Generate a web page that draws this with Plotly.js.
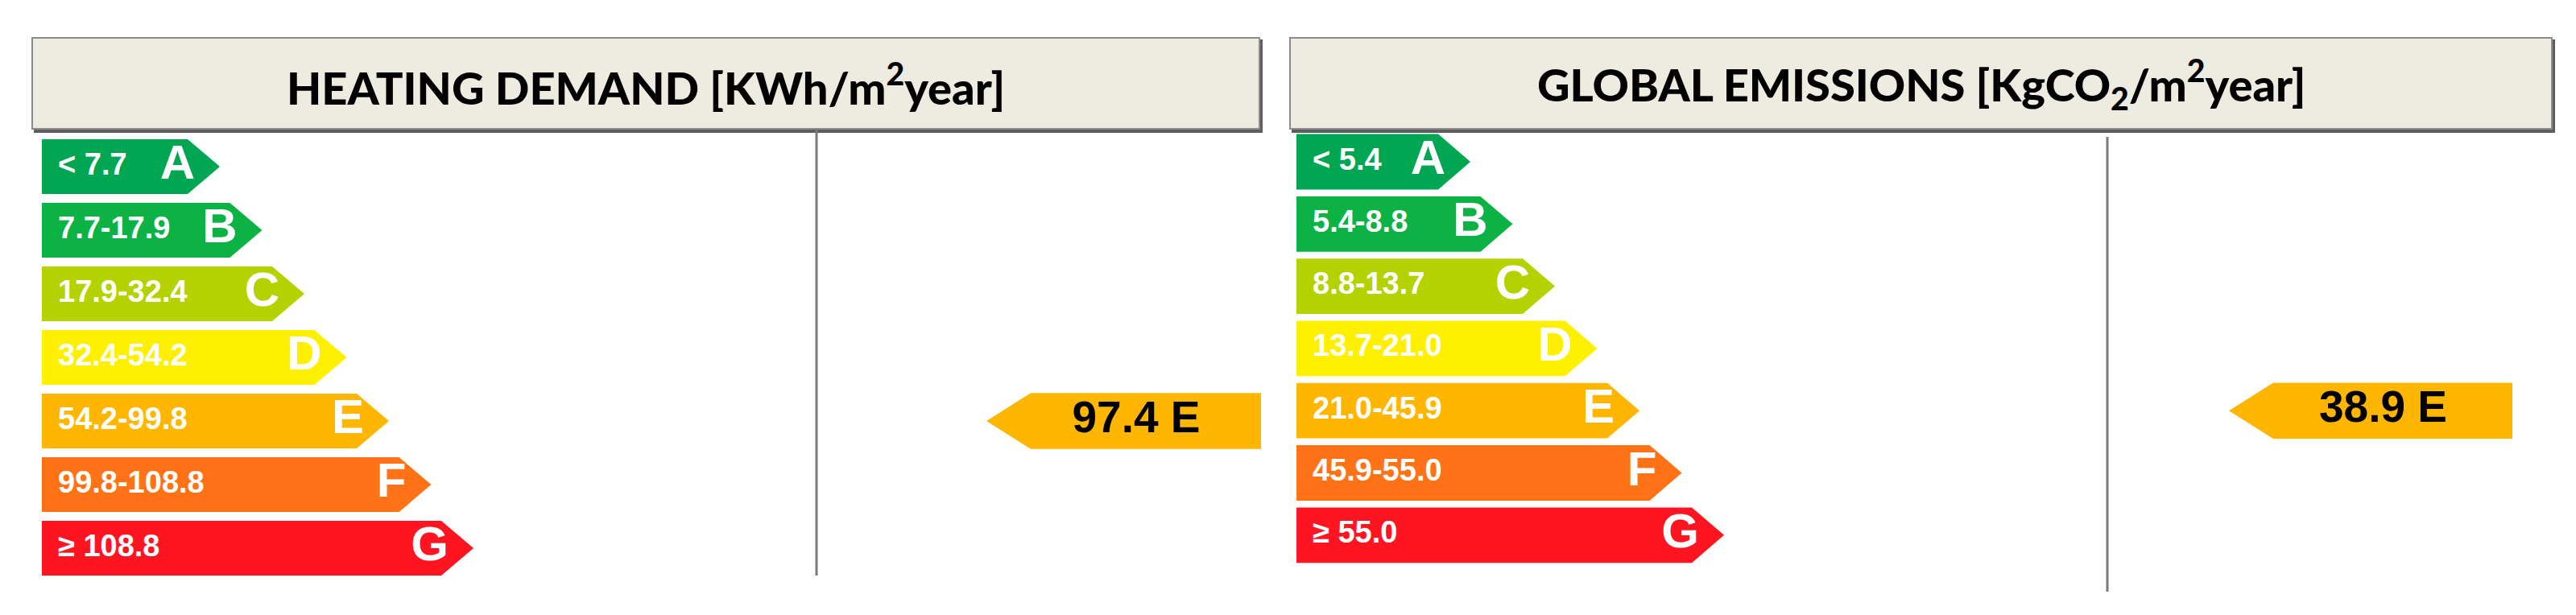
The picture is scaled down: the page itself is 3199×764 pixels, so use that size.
<!DOCTYPE html>
<html>
<head>
<meta charset="utf-8">
<script src="https://cdn.plot.ly/plotly-3.0.1.min.js"></script>
<style>body{margin:0;background:#fff}</style>
</head>
<body>
<div id="graph_container" style="width:3199px;height:764px"></div>
<script>
var classes = ['A', 'B', 'C', 'D', 'E', 'F', 'G'];
var class_colors = ['#00A651', '#0CB243', '#B4D200', '#FFF000', '#FFB600', '#FF7316', '#FF1521'];

var heating_ranges = ['< 7.7', '7.7-17.9', '17.9-32.4', '32.4-54.2', '54.2-99.8', '99.8-108.8', '\u2265 108.8'];
var heating_value = 97.4;
var heating_class = 'E';

var emission_ranges = ['< 5.4', '5.4-8.8', '8.8-13.7', '13.7-21.0', '21.0-45.9', '45.9-55.0', '\u2265 55.0'];
var emission_value = 38.9;
var emission_class = 'E';

var W = 3199, H = 764;
var rangeFont = '"Liberation Sans Narrow", "Arial Narrow", "Liberation Sans", Arial, sans-serif';
var boldFont = '"Liberation Sans", Arial, sans-serif';

// layout of the two panels, in page pixels
var panels = [
    {title: 'HEATING DEMAND [KWh/m<sup>2</sup>year]', ranges: heating_ranges,
     value: heating_value, cls: heating_class, yaxis: 'y',
     box: [40, 1564, 47, 160], divider: [1014, 160, 715],
     barX: 52, tip0: 273, halfH: 0.43, ind: [1225, 1280, 1566], indH: 0.44},
    {title: 'GLOBAL EMISSIONS [KgCO<sub>2</sub>/m<sup>2</sup>year]', ranges: emission_ranges,
     value: emission_value, cls: emission_class, yaxis: 'y2',
     box: [1602, 3169, 47, 160], divider: [2617, 170, 735],
     barX: 1610, tip0: 1826, halfH: 0.445, ind: [2768, 2823, 3120], indH: 0.45}
];
var tipStep = 52.5, tipDepth = 40;

function py(p) { return 1 - p / H; }

var traces = [];
var shapes = [];
var annotations = [];

panels.forEach(function (pn) {
    var letterX = [], rangeX = [], ys = [];
    classes.forEach(function (c, i) {
        var tip = pn.tip0 + tipStep * i;
        var body = tip - tipDepth;
        var h = pn.halfH;
        traces.push({
            x: [pn.barX, body, tip, body, pn.barX, pn.barX],
            y: [i - h, i - h, i, i + h, i + h, i - h],
            yaxis: pn.yaxis, type: 'scatter', mode: 'lines', fill: 'toself',
            fillcolor: class_colors[i], line: {width: 0, color: class_colors[i]},
            hoverinfo: 'skip'
        });
        letterX.push(tip - 31);
        rangeX.push(pn.barX + 20);
        ys.push(i);
    });
    traces.push({
        x: rangeX, y: ys, text: pn.ranges, yaxis: pn.yaxis,
        type: 'scatter', mode: 'text', textposition: 'middle right',
        textfont: {family: rangeFont, size: 38, color: '#ffffff', weight: 'bold'},
        hoverinfo: 'skip'
    });
    traces.push({
        x: letterX, y: ys, text: classes, yaxis: pn.yaxis,
        type: 'scatter', mode: 'text', textposition: 'middle left',
        textfont: {family: boldFont, size: 60, color: '#ffffff', weight: 'bold'},
        hoverinfo: 'skip'
    });

    // indicator arrow at the rated class
    var k = classes.indexOf(pn.cls);
    var tipX = pn.ind[0], bodyX = pn.ind[1], endX = pn.ind[2], ih = pn.indH;
    traces.push({
        x: [endX, bodyX, tipX, bodyX, endX, endX],
        y: [k - ih, k - ih, k, k + ih, k + ih, k - ih],
        yaxis: pn.yaxis, type: 'scatter', mode: 'lines', fill: 'toself',
        fillcolor: class_colors[k], line: {width: 0, color: class_colors[k]},
        hoverinfo: 'skip'
    });
    traces.push({
        x: [(bodyX + endX) / 2 - 12], y: [k], text: [pn.value.toFixed(1) + ' ' + pn.cls],
        yaxis: pn.yaxis, type: 'scatter', mode: 'text', textposition: 'middle center',
        textfont: {family: boldFont, size: 55, color: '#000000', weight: 'bold'},
        hoverinfo: 'skip'
    });

    // header box with shadow
    var b = pn.box;
    shapes.push({type: 'rect', xref: 'x', yref: 'paper', x0: b[0] + 2, x1: b[1] + 4, y0: py(b[3] + 5), y1: py(b[2] + 2),
                 fillcolor: '#5e5e5e', line: {width: 0}, layer: 'below'});
    shapes.push({type: 'rect', xref: 'x', yref: 'paper', x0: b[0], x1: b[1], y0: py(b[3]), y1: py(b[2]),
                 fillcolor: '#EEEBE1', line: {width: 2, color: '#8c8c8c'}, layer: 'below'});
    annotations.push({text: pn.title, xref: 'x', yref: 'paper', x: (b[0] + b[1]) / 2, y: py(104),
                      xanchor: 'center', yanchor: 'middle', showarrow: false,
                      font: {family: 'Lato, "Open Sans", sans-serif', size: 56, color: '#000000', weight: 900}});
    var d = pn.divider;
    shapes.push({type: 'line', xref: 'x', yref: 'paper', x0: d[0], x1: d[0], y0: py(d[1]), y1: py(d[2]),
                 line: {width: 3, color: '#7a7a7a'}});
});

var layout = {
    width: W, height: H,
    margin: {l: 0, r: 0, t: 0, b: 0},
    paper_bgcolor: '#ffffff', plot_bgcolor: '#ffffff',
    showlegend: false,
    xaxis: {range: [0, W], visible: false, fixedrange: true},
    yaxis: {range: [(H - 207) / 79, -207 / 79], visible: false, fixedrange: true},
    yaxis2: {range: [(H - 201) / 77.3, -201 / 77.3], visible: false, fixedrange: true, overlaying: 'y', anchor: 'x'},
    shapes: shapes,
    annotations: annotations
};

Plotly.newPlot('graph_container', traces, layout, {displayModeBar: false, staticPlot: true});
</script>
</body>
</html>
